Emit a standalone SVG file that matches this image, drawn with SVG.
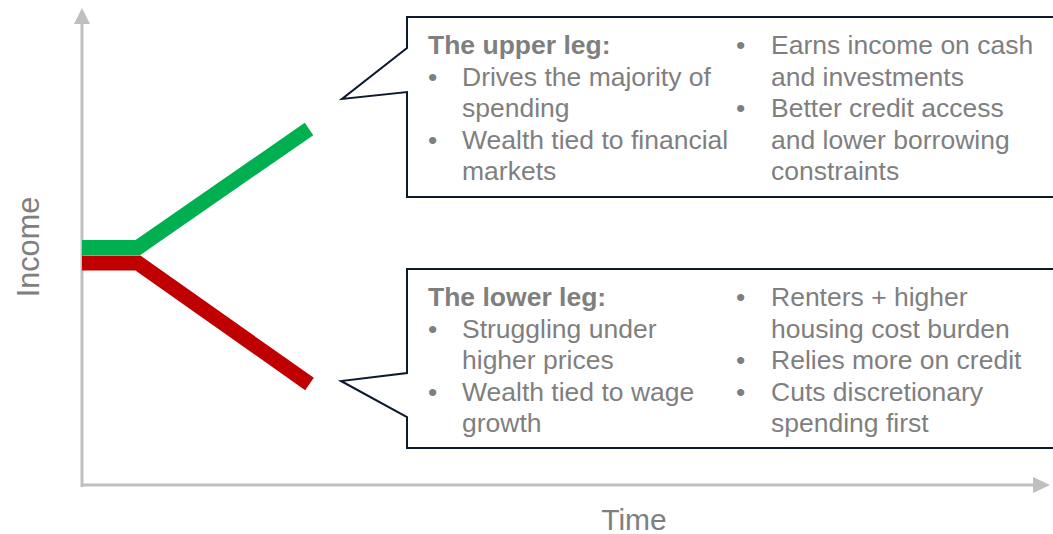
<svg xmlns="http://www.w3.org/2000/svg" width="1053" height="534" viewBox="0 0 1053 534">
<style>
.t{font-family:"Liberation Sans",Arial,sans-serif;font-size:26.5px;fill:#7f7f7f}
.b{font-weight:bold}
.ax{stroke:#bfbfbf;stroke-width:3;fill:none}
.ah{fill:#bfbfbf}
.box{fill:#ffffff;stroke:#0d1a2b;stroke-width:2;stroke-linejoin:miter}
.leg{fill:none;stroke-width:15;stroke-linejoin:miter;stroke-linecap:butt}
</style>
<rect width="1053" height="534" fill="#ffffff"/>
<g id="axes">
<line class="ax" x1="82" y1="22" x2="82" y2="487"/>
<polygon class="ah" points="82,8 74,24 90,24"/>
<line class="ax" x1="81" y1="485" x2="1036" y2="485"/>
<polygon class="ah" points="1050,485 1033,477 1033,493"/>
<text class="t" x="0" y="0" transform="translate(39,247) rotate(-90)" text-anchor="middle" style="font-size:30.7px">Income</text>
<text class="t" x="634" y="530" text-anchor="middle" style="font-size:30px">Time</text>
</g>
<g id="connectors">
<polyline class="leg" stroke="#00b050" points="82,247.5 138,247.5 309,129"/>
<polyline class="leg" stroke="#c00000" points="82,263 138,263 309.5,384"/>
</g>
<g id="upper-callout">
<path class="box" d="M407,48 L407,17 L1060,17 L1060,197 L407,197 L407,92 L342,99 Z"/>
<text class="t b" x="428" y="54">The upper leg:</text>
<text class="t" x="428" y="85.5">•</text>
<text class="t" x="462" y="85.5">Drives the majority of</text>
<text class="t" x="462" y="117">spending</text>
<text class="t" x="428" y="148.5">•</text>
<text class="t" x="462" y="148.5">Wealth tied to financial</text>
<text class="t" x="462" y="180">markets</text>
<text class="t" x="736" y="54">•</text>
<text class="t" x="771" y="54">Earns income on cash</text>
<text class="t" x="771" y="85.5">and investments</text>
<text class="t" x="736" y="117">•</text>
<text class="t" x="771" y="117">Better credit access</text>
<text class="t" x="771" y="148.5">and lower borrowing</text>
<text class="t" x="771" y="180">constraints</text>
</g>
<g id="lower-callout">
<path class="box" d="M407,373 L407,269 L1060,269 L1060,448 L407,448 L407,417 L341,381 Z"/>
<text class="t b" x="428" y="306">The lower leg:</text>
<text class="t" x="428" y="337.5">•</text>
<text class="t" x="462" y="337.5">Struggling under</text>
<text class="t" x="462" y="369">higher prices</text>
<text class="t" x="428" y="400.5">•</text>
<text class="t" x="462" y="400.5">Wealth tied to wage</text>
<text class="t" x="462" y="432">growth</text>
<text class="t" x="736" y="306">•</text>
<text class="t" x="771" y="306">Renters + higher</text>
<text class="t" x="771" y="337.5">housing cost burden</text>
<text class="t" x="736" y="369">•</text>
<text class="t" x="771" y="369">Relies more on credit</text>
<text class="t" x="736" y="400.5">•</text>
<text class="t" x="771" y="400.5">Cuts discretionary</text>
<text class="t" x="771" y="432">spending first</text>
</g>
</svg>
